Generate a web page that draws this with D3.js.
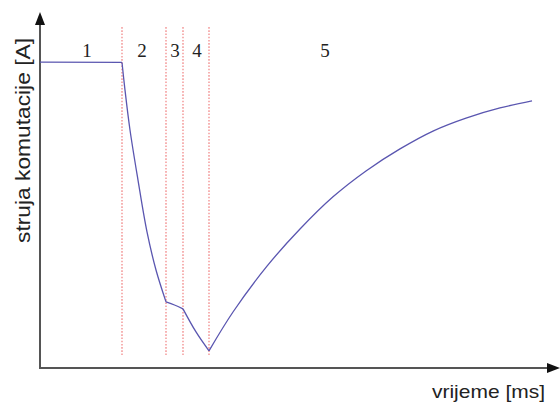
<!DOCTYPE html>
<html>
<head>
<meta charset="utf-8">
<script src="https://cdn.jsdelivr.net/npm/d3@7"></script>
<style>
  html, body { margin: 0; padding: 0; background: #ffffff; }
  svg { display: block; }
</style>
</head>
<body>
<svg id="chart" width="560" height="403"></svg>
<script>
// Commutation current waveform, split into its five phases
// time in ms (relative units), current in A (relative units)
const phase1 = [[0, 87.4], [16.4, 87.3]];
const phase2 = [[16.4, 87.3], [17.0, 79.4], [18.0, 68.0], [19.6, 53.7], [21.4, 38.9], [23.2, 28.0], [25.2, 18.9]];
const phase3 = [[25.2, 18.9], [26.9, 18.0], [28.6, 16.9]];
const phase4 = [[28.6, 16.9], [31.2, 10.3], [33.8, 4.9]];
const phase5 = [[33.8, 4.9], [38.6, 16.0], [45.4, 29.1], [52.0, 39.7], [58.6, 48.9], [65.2, 56.3],
                [72.0, 62.6], [78.6, 67.7], [85.2, 71.4], [92.0, 74.3], [98.4, 76.3]];

// phase boundaries (ms)
const boundaries = [16.4, 25.2, 28.6, 33.8];
// phase labels and where they sit along the time axis
const phaseLabels = ["1", "2", "3", "4", "5"];
const phaseLabelT = [9.4, 20.4, 27.0, 31.4, 57.0];

const xTitle = "vrijeme [ms]";
const yTitle = "struja komutacije [A]";

const svg = d3.select("#chart");

const x = d3.scaleLinear().domain([0, 100]).range([40, 540]);
const y = d3.scaleLinear().domain([0, 100]).range([368, 18]);

// dotted phase boundaries
svg.append("g")
  .selectAll("line")
  .data(boundaries)
  .join("line")
  .attr("x1", d => x(d)).attr("x2", d => x(d))
  .attr("y1", y(97.4)).attr("y2", y(3.7))
  .attr("stroke", "#f4a0a0")
  .attr("stroke-width", 1.6)
  .attr("stroke-dasharray", "1.6,1.6");

// axes with arrowheads
const axisColor = "#555";
const x0 = x(0), y0 = y(0);
svg.append("line")
  .attr("x1", x0).attr("y1", y0 + 1)
  .attr("x2", x0).attr("y2", 22)
  .attr("stroke", axisColor).attr("stroke-width", 2);
svg.append("path")
  .attr("d", `M${x0},12 L${x0 + 5},25 L${x0 - 5},25 Z`)
  .attr("fill", "#111");
svg.append("line")
  .attr("x1", x0 - 1).attr("y1", y0)
  .attr("x2", 550).attr("y2", y0)
  .attr("stroke", axisColor).attr("stroke-width", 2);
svg.append("path")
  .attr("d", `M560,${y0} L547,${y0 - 5} L547,${y0 + 5} Z`)
  .attr("fill", "#111");

// waveform
const line = d3.line()
  .x(d => x(d[0]))
  .y(d => y(d[1]))
  .curve(d3.curveCatmullRom.alpha(0.5));

svg.append("g")
  .selectAll("path")
  .data([phase1, phase2, phase3, phase4, phase5])
  .join("path")
  .attr("d", line)
  .attr("fill", "none")
  .attr("stroke", "#5a56b0")
  .attr("stroke-width", 1.3)
  .attr("stroke-linejoin", "round");

// phase numbers
svg.append("g")
  .selectAll("text")
  .data(phaseLabels)
  .join("text")
  .attr("x", (d, i) => x(phaseLabelT[i]))
  .attr("y", 57)
  .attr("text-anchor", "middle")
  .attr("font-family", "'Liberation Serif', 'Times New Roman', serif")
  .attr("font-size", 19)
  .attr("fill", "#222")
  .text(d => d);

// axis titles
svg.append("text")
  .attr("x", 432)
  .attr("y", 398)
  .attr("font-family", "'Liberation Sans', Arial, sans-serif")
  .attr("font-size", 19)
  .attr("textLength", 113)
  .attr("lengthAdjust", "spacingAndGlyphs")
  .attr("fill", "#222")
  .text(xTitle);

svg.append("text")
  .attr("transform", "translate(30,243) rotate(-90)")
  .attr("font-family", "'Liberation Sans', Arial, sans-serif")
  .attr("font-size", 21)
  .attr("textLength", 205)
  .attr("lengthAdjust", "spacingAndGlyphs")
  .attr("fill", "#222")
  .text(yTitle);
</script>
</body>
</html>
